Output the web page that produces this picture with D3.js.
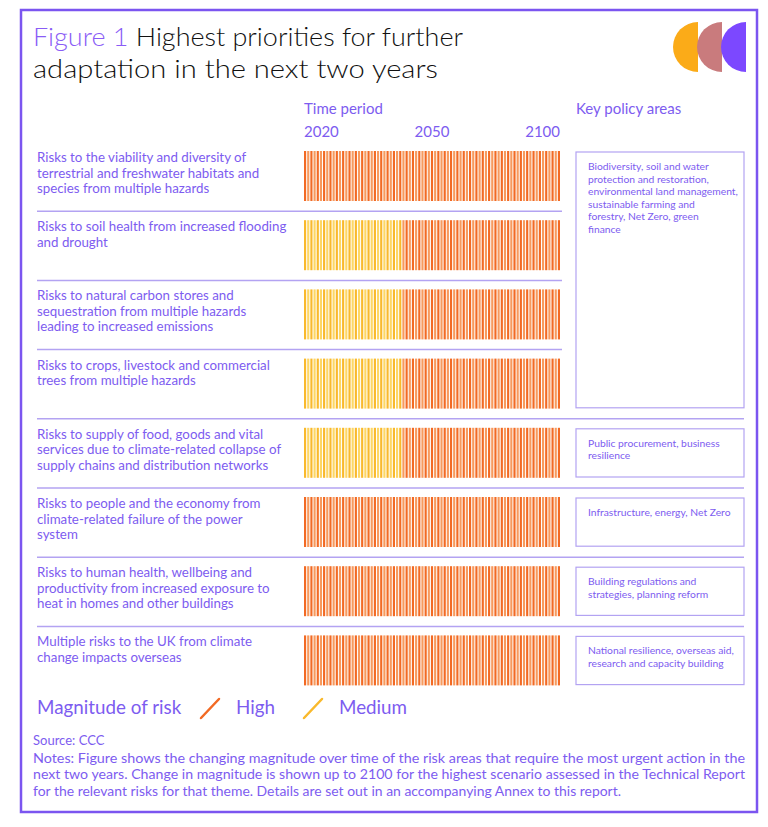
<!DOCTYPE html>
<html>
<head>
<meta charset="utf-8">
<script src="https://cdn.jsdelivr.net/npm/d3@7"></script>
<style>
  body { margin: 0; background: #fff; }
  svg text { font-family: Lato, "DejaVu Sans", sans-serif; }
</style>
</head>
<body>
<div id="chart"></div>
<script>
// risk rows, each label already split in lines as in the figure
var risks = [
    ["Risks to the viability and diversity of", "terrestrial and freshwater habitats and", "species from multiple hazards"],
    ["Risks to soil health from increased flooding", "and drought"],
    ["Risks to natural carbon stores and", "sequestration from multiple hazards", "leading to increased emissions"],
    ["Risks to crops, livestock and commercial", "trees from multiple hazards"],
    ["Risks to supply of food, goods and vital", "services due to climate-related collapse of", "supply chains and distribution networks"],
    ["Risks to people and the economy from", "climate-related failure of the power", "system"],
    ["Risks to human health, wellbeing and", "productivity from increased exposure to", "heat in homes and other buildings"],
    ["Multiple risks to the UK from climate", "change impacts overseas"]
];
// last year rated "Medium" for each row (null = High for the whole period)
var mediumUntil = [null, 2050, 2050, 2050, 2050, null, null, null];
var years = d3.range(2020, 2101);
var yearLabels = ["2020", "2050", "2100"];

// key policy areas: first row index, number of rows covered, text lines
var policyRows = [0, 4, 5, 6, 7];
var policySpan = [4, 1, 1, 1, 1];
var policyText = [
    ["Biodiversity, soil and water", "protection and restoration,", "environmental land management,", "sustainable farming and", "forestry, Net Zero, green", "finance"],
    ["Public procurement, business", "resilience"],
    ["Infrastructure, energy, Net Zero"],
    ["Building regulations and", "strategies, planning reform"],
    ["National resilience, overseas aid,", "research and capacity building"]
];
var legendLabels = ["High", "Medium"];

var purple = "#7b55f0";
var textPurple = "#7d5cf0";
var lineCol = "#b3a3f2";
var highCols = ["#f26a24", "#f79a5e"];
var medCols = ["#f9b92c", "#fdd765"];

var width = 768, height = 827;
var svg = d3.select("#chart").append("svg")
    .attr("width", width)
    .attr("height", height);

// frame
svg.append("rect")
    .attr("x", 21).attr("y", 10)
    .attr("width", 736).attr("height", 802)
    .attr("fill", "none")
    .attr("stroke", purple)
    .attr("stroke-width", 2.5);

// title
var t1 = svg.append("text").attr("x", 33).attr("y", 46)
    .style("font-size", "26px").style("font-weight", 300)
    .attr("textLength", 430).attr("lengthAdjust", "spacingAndGlyphs");
t1.append("tspan").attr("fill", "#8a5cf6").text("Figure 1 ");
t1.append("tspan").attr("fill", "#111").text("Highest priorities for further");
svg.append("text").attr("x", 33).attr("y", 78)
    .style("font-size", "26px").style("font-weight", 300)
    .attr("textLength", 405).attr("lengthAdjust", "spacingAndGlyphs")
    .attr("fill", "#111").text("adaptation in the next two years");

// logo: three left half discs
var logoCols = ["#fbab18", "#c97b7d", "#7c48ff"];
logoCols.forEach(function (c, i) {
    var cx = 698 + i * 24, cy = 47, r = 25;
    svg.append("path")
        .attr("d", "M" + cx + "," + (cy - r) + " A" + r + "," + r + " 0 0 0 " + cx + "," + (cy + r) + " Z")
        .attr("fill", c);
});

// scales
var barLeft = 304, barRight = 560;
var x = d3.scaleBand().domain(years).range([barLeft, barRight]).paddingInner(0.32);
var xLab = d3.scalePoint().domain(yearLabels).range([barLeft, barRight]);
var rowTop = 142, rowH = 69.2;
var y = d3.scaleBand().domain(d3.range(risks.length)).range([rowTop, rowTop + rowH * risks.length]);

// headers
svg.append("text").attr("x", barLeft).attr("y", 114).attr("fill", textPurple)
    .style("font-size", "15px").text("Time period");
svg.append("text").attr("x", 576).attr("y", 114).attr("fill", textPurple)
    .style("font-size", "15px").text("Key policy areas");
svg.selectAll(".yearlab")
    .data(yearLabels)
    .enter().append("text")
    .attr("class", "yearlab")
    .attr("x", function (d) { return xLab(d); })
    .attr("y", 137)
    .attr("text-anchor", function (d, i) { return i == 0 ? "start" : (i == yearLabels.length - 1 ? "end" : "middle"); })
    .attr("fill", textPurple)
    .style("font-size", "15px")
    .text(function (d) { return d; });

// row separators
d3.range(1, risks.length).forEach(function (i) {
    var full = policyRows.indexOf(i) >= 0;
    svg.append("line")
        .attr("x1", 37).attr("x2", full ? 744 : 562)
        .attr("y1", y(i)).attr("y2", y(i))
        .attr("stroke", lineCol).attr("stroke-width", 1.5);
});

// row labels
risks.forEach(function (lines, i) {
    var t = svg.append("text")
        .attr("x", 37)
        .attr("y", y(i) + 20)
        .attr("fill", textPurple)
        .style("font-size", "13.3px");
    lines.forEach(function (l, j) {
        t.append("tspan").attr("x", 37).attr("dy", j == 0 ? 0 : 15.5).text(l);
    });
});

// stripes
risks.forEach(function (lines, i) {
    var g = svg.append("g");
    g.selectAll("rect")
        .data(years)
        .enter().append("rect")
        .attr("x", function (d) { return x(d); })
        .attr("y", y(i) + 9)
        .attr("width", x.bandwidth())
        .attr("height", 50)
        .attr("fill", function (d, k) {
            var med = mediumUntil[i] != null && d <= mediumUntil[i];
            var cols = med ? medCols : highCols;
            return cols[k % 2];
        });
});

// policy boxes
policyRows.forEach(function (r, i) {
    var top = y(r) + 10;
    var bottom = y(r + policySpan[i] - 1) + y.bandwidth() - 11;
    svg.append("rect")
        .attr("x", 576).attr("y", top)
        .attr("width", 168).attr("height", bottom - top)
        .attr("fill", "none")
        .attr("stroke", lineCol).attr("stroke-width", 1.2);
    var t = svg.append("text")
        .attr("x", 588).attr("y", top + 18)
        .attr("fill", textPurple)
        .style("font-size", "10.3px");
    policyText[i].forEach(function (l, j) {
        t.append("tspan").attr("x", 588).attr("dy", j == 0 ? 0 : 12.5).text(l);
    });
});

// legend
svg.append("text").attr("x", 37).attr("y", 714).attr("fill", textPurple)
    .style("font-size", "18.8px").text("Magnitude of risk");
var legX = [201, 304];
legendLabels.forEach(function (l, i) {
    svg.append("line")
        .attr("x1", legX[i]).attr("y1", 718)
        .attr("x2", legX[i] + 18).attr("y2", 699)
        .attr("stroke", i == 0 ? highCols[0] : medCols[0])
        .attr("stroke-width", 2.5)
        .attr("stroke-linecap", "round");
    svg.append("text").attr("x", legX[i] + 35).attr("y", 714).attr("fill", textPurple)
        .style("font-size", "18.8px").text(l);
});

// source and notes
var notes = [
    "Notes: Figure shows the changing magnitude over time of the risk areas that require the most urgent action in the",
    "next two years. Change in magnitude is shown up to 2100 for the highest scenario assessed in the Technical Report",
    "for the relevant risks for that theme. Details are set out in an accompanying Annex to this report."
];
var notesW = [712, 712, 588];
svg.append("text").attr("x", 33).attr("y", 745).attr("fill", textPurple)
    .style("font-size", "13px").text("Source: CCC");
notes.forEach(function (n, i) {
    svg.append("text").attr("x", 33).attr("y", 763 + i * 16.3)
        .attr("fill", textPurple)
        .style("font-size", "13px")
        .attr("textLength", notesW[i])
        .attr("lengthAdjust", "spacingAndGlyphs")
        .text(n);
});
</script>
</body>
</html>
